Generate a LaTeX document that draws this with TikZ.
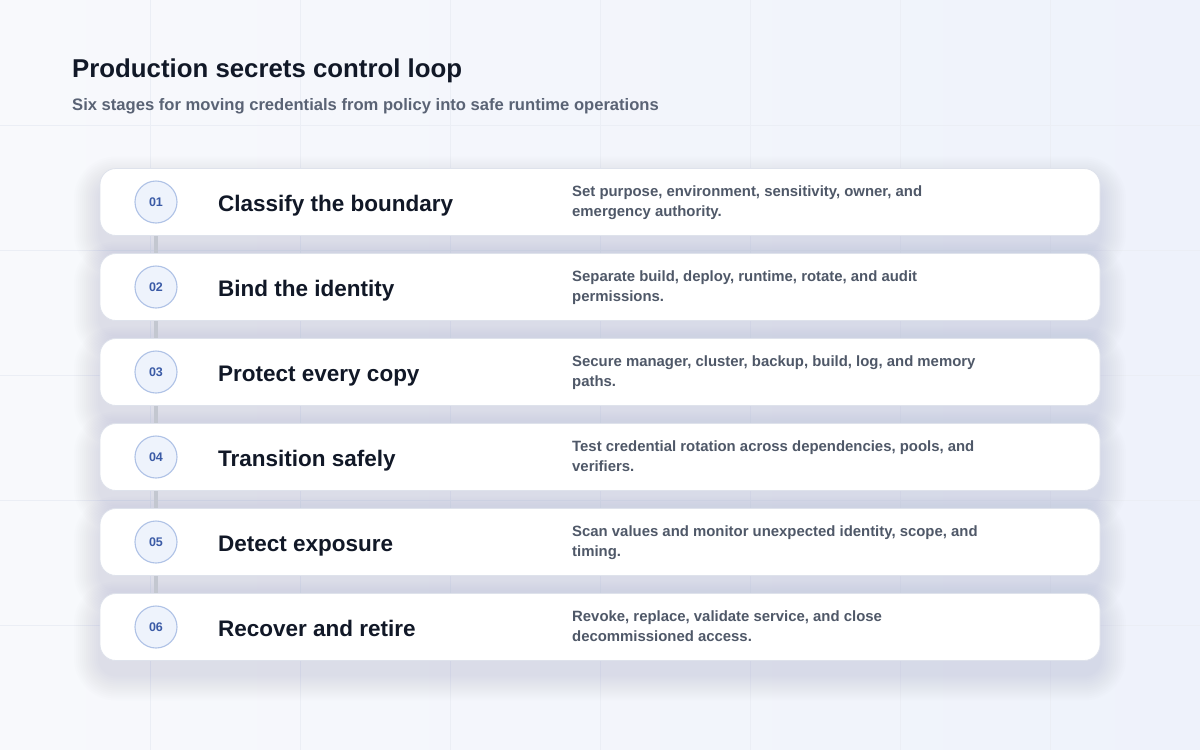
\documentclass[tikz,border=0pt]{standalone}
\usepackage{fontspec}
\setmainfont{Liberation Sans}
\definecolor{bgA}{HTML}{F8F9FC}
\definecolor{bgB}{HTML}{EEF2FB}
\definecolor{gridc}{HTML}{EBEEF5}
\definecolor{titlec}{HTML}{111827}
\definecolor{subc}{HTML}{5A6375}
\definecolor{descc}{HTML}{4F5868}
\definecolor{cardline}{HTML}{DEE2EB}
\definecolor{shadc}{HTML}{77809A}
\definecolor{numfill}{HTML}{EEF3FC}
\definecolor{numline}{HTML}{AFC2E6}
\definecolor{numtext}{HTML}{3A5AA6}
\definecolor{connc}{HTML}{C3C7D0}
\pgfdeclarelayer{back}
\pgfdeclarelayer{shadow}
\pgfdeclarelayer{conn}
\pgfsetlayers{back,shadow,conn,main}
\tikzset{
  card/.style={draw=cardline, line width=0.8pt, fill=white, rounded corners=16pt,
    minimum width=1000pt, minimum height=67pt, inner sep=0pt},
  numc/.style={circle, draw=numline, line width=1.1pt, fill=numfill, minimum size=42pt,
    inner sep=0pt, text=numtext, font=\fontsize{12.5}{14}\selectfont\bfseries},
  head/.style={anchor=base west, inner sep=0pt, text=titlec, font=\fontsize{22.5}{26}\selectfont\bfseries},
  desc/.style={anchor=base west, inner sep=0pt, text=descc, align=left,
    font=\fontsize{14.9}{20}\selectfont\bfseries},
  conn/.style={draw=connc, line width=4pt},
}
\begin{document}
\begin{tikzpicture}[x=1pt,y=-1pt]
\useasboundingbox (0,0) rectangle (1200,750);
\begin{pgfonlayer}{back}
  \shade[shading angle=135, left color=bgA, right color=bgB] (0,0) rectangle (1200,750);
  \foreach \gx in {150,300,...,1050} \draw[gridc, line width=0.7pt] (\gx,0) -- (\gx,750);
  \foreach \gy in {125,250,...,625} \draw[gridc, line width=0.7pt] (0,\gy) -- (1200,\gy);
\end{pgfonlayer}

\node[anchor=base west, inner sep=0pt, text=titlec, font=\fontsize{25.8}{30}\selectfont\bfseries] (title) at (72,77) {Production secrets control loop};
\node[anchor=base west, inner sep=0pt, text=subc, font=\fontsize{16.6}{20}\selectfont\bfseries] (subtitle) at (72,110) {Six stages for moving credentials from policy into safe runtime operations};

\foreach \i/\cy/\num/\hd/\la/\lb in {
  1/202/01/Classify the boundary/{Set purpose, environment, sensitivity, owner, and}/{emergency authority.},
  2/287/02/Bind the identity/{Separate build, deploy, runtime, rotate, and audit}/{permissions.},
  3/372/03/Protect every copy/{Secure manager, cluster, backup, build, log, and memory}/{paths.},
  4/457/04/Transition safely/{Test credential rotation across dependencies, pools, and}/{verifiers.},
  5/542/05/Detect exposure/{Scan values and monitor unexpected identity, scope, and}/{timing.},
  6/627/06/Recover and retire/{Revoke, replace, validate service, and close}/{decommissioned access.}} {
  \begin{pgfonlayer}{shadow}
    \foreach \k in {2,4,...,26} {
      \fill[shadc, opacity=0.013, rounded corners=16pt+\k pt]
        (100-\k, \cy-33.5+14-\k) rectangle (1100+\k, \cy+33.5+14+\k);
    }
  \end{pgfonlayer}
  \node[card] (card\i) at (600,\cy) {};
  \node[numc] (n\i) at (156,\cy) {\num};
  \node[head] (h\i) at (218,\cy+9.5) {\hd};
  \node[desc] (d\i) at (572,\cy+14.5) {\la\\\lb};
}
\begin{pgfonlayer}{conn}
  \foreach \a/\b in {1/2,2/3,3/4,4/5,5/6} \draw[conn] (n\a) -- (n\b);
\end{pgfonlayer}
\end{tikzpicture}
\end{document}
